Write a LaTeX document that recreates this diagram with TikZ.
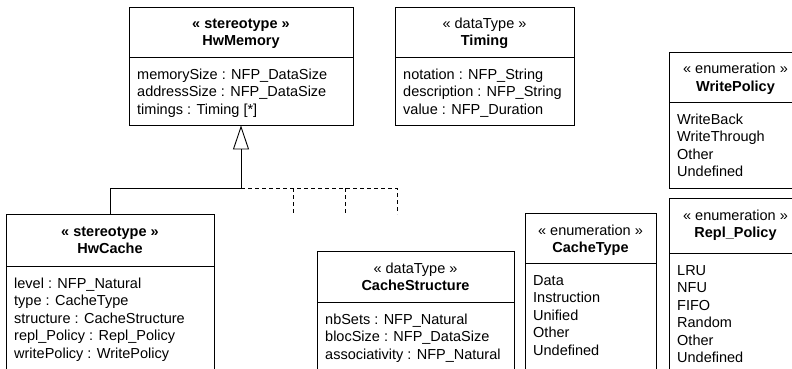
\documentclass[tikz,border=0pt]{standalone}
\usepackage{fontspec}
\setmainfont{Liberation Sans}
\usetikzlibrary{arrows.meta,fit}
\tikzset{
 umlbox/.style={draw=black, line width=0.9pt, inner sep=0pt},
 divline/.style={line width=0.9pt},
 hdr/.style={anchor=base, inner sep=0pt, font=\fontsize{14.5}{17}\selectfont},
 attr/.style={anchor=base west, inner sep=0pt, font=\fontsize{14.5}{17}\selectfont},
 genline/.style={line width=0.9pt},
 realline/.style={line width=0.9pt, dash pattern=on 4pt off 3pt},
}
\newcommand\umlclass[9]{%
  \node[umlbox, fit={(#2,#3) (#4,#5)}] (#1) {};
  \draw[divline] (#2,#6) -- (#4,#6);
  \node[hdr] (#1-s) at ({(#2+#4)/2},{#3+22}) {#7};
  \node[hdr] (#1-t) at ({(#2+#4)/2},{#3+39}) {\bfseries #8};
  \foreach \atxt [count=\i] in {#9} \node[attr] (#1-a\i) at ({#2+8},{#6+22+(\i-1)*17.5}) {\atxt};
}
\begin{document}
\begin{tikzpicture}[x=1pt,y=-1pt]
\useasboundingbox (0,0) rectangle (792,369);
\clip (0,0) rectangle (792,369);
\fill[white] (0,0) rectangle (792,369);
\umlclass{mem}{129}{7}{353}{125}{57}{\bfseries « stereotype »}{HwMemory}{{memorySize : NFP\_DataSize},{addressSize : NFP\_DataSize},{timings : Timing [*]}}
\umlclass{timing}{395}{7}{574}{125}{57}{« dataType »}{Timing}{{notation : NFP\_String},{description : NFP\_String},{value : NFP\_Duration}}
\umlclass{wpol}{669}{52}{802}{188}{102}{« enumeration »}{WritePolicy}{WriteBack,WriteThrough,Other,Undefined}
\umlclass{rpol}{669}{198}{802}{390}{253}{« enumeration »}{Repl\_Policy}{LRU,NFU,FIFO,Random,Other,Undefined}
\umlclass{cache}{6}{214}{214}{390}{266}{\bfseries « stereotype »}{HwCache}{{level : NFP\_Natural},{type : CacheType},{structure : CacheStructure},{repl\_Policy : Repl\_Policy},{writePolicy : WritePolicy}}
\umlclass{cstruct}{317}{251}{514}{390}{302}{« dataType »}{CacheStructure}{{nbSets : NFP\_Natural},{blocSize : NFP\_DataSize},{associativity : NFP\_Natural}}
\umlclass{ctype}{525}{213}{656}{390}{263}{« enumeration »}{CacheType}{Data,Instruction,Unified,Other,Undefined}
\coordinate (j) at (241,188);
\coordinate (d1) at (293,214);
\coordinate (d2) at (345,214);
\coordinate (d3) at (397,214);
\draw[genline, -{Triangle[open, length=24pt, width=16pt, line width=0.9pt]}] (cache.north) |- (j) -- (mem.south);
\draw[realline] (j) -| (d3);
\draw[realline] (d1 |- j) -- (d1);
\draw[realline] (d2 |- j) -- (d2);
\end{tikzpicture}
\end{document}
